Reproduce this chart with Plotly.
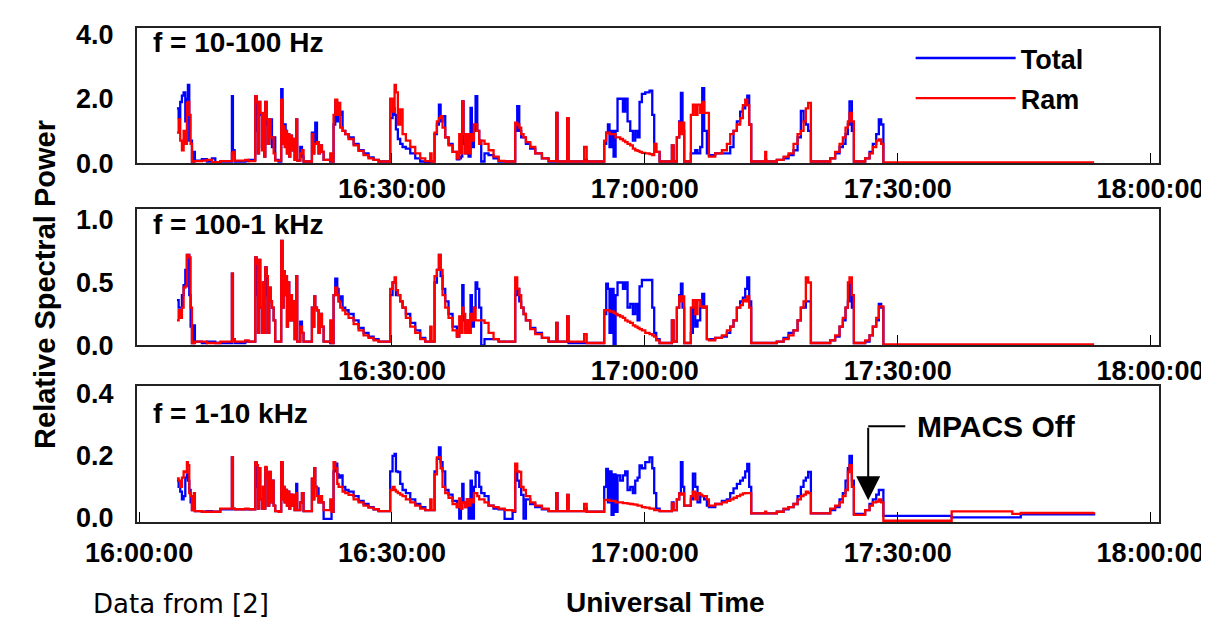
import plotly.graph_objects as go

# time in minutes after 16:00:00 UT
minutes = [4.49, 4.69, 4.88, 5.08, 5.28, 5.48, 5.67, 5.79, 5.95, 6.11, 6.27, 6.5, 6.62, 7.45, 8.05, 8.64, 9.04, 9.63,
           11.01, 11.13, 11.33, 12.59, 12.99, 13.78, 13.94, 14.1, 14.22, 14.37, 14.57, 14.69, 14.85, 14.97, 15.13,
           15.28, 15.44, 15.6, 15.76, 15.96, 16.15, 16.55, 16.86, 17.02, 17.14, 17.26, 17.38, 17.54, 17.66, 17.81,
           17.93, 18.13, 18.25, 18.45, 18.64, 18.76, 19.12, 19.32, 19.51, 20.5, 20.66, 20.78, 20.9, 21.1, 21.29,
           21.45, 21.69, 21.89, 22.68, 22.83, 23.07, 23.27, 23.51, 23.67, 23.86, 24.14, 24.46, 24.85, 25.45, 26.04,
           26.63, 27.22, 27.82, 28.41, 29.79, 30.07, 30.31, 30.47, 30.7, 30.98, 31.26, 31.65, 32.17, 32.76, 33.35,
           33.95, 34.54, 34.7, 35.05, 35.33, 35.57, 35.77, 36.0, 36.32, 36.71, 37.19, 37.7, 37.98, 38.18, 38.34,
           38.49, 38.69, 38.89, 39.09, 39.32, 39.48, 39.72, 39.92, 40.12, 40.35, 40.59, 40.98, 41.46, 42.05, 42.65,
           43.36, 44.31, 44.62, 44.86, 45.1, 45.33, 45.61, 45.89, 46.4, 47.0, 47.79, 48.58, 49.49, 49.64, 50.79,
           50.95, 52.8, 53.1, 55.18, 55.42, 55.62, 55.81, 56.05, 56.29, 56.53, 56.76, 57.08, 57.4, 57.67, 57.95,
           58.27, 58.58, 58.86, 59.14, 59.37, 59.65, 60.05, 60.56, 60.88, 61.11, 61.35, 61.75, 63.21, 63.41, 63.8,
           64.08, 64.28, 64.47, 64.67, 65.46, 65.7, 65.98, 66.25, 66.57, 66.81, 67.04, 67.36, 67.6, 68.35, 69.14,
           69.73, 70.13, 70.52, 70.92, 71.31, 71.63, 71.91, 72.15, 72.38, 72.62, 74.28, 74.4, 75.66, 76.46, 77.05,
           77.64, 78.12, 78.51, 78.83, 79.1, 79.38, 79.7, 81.99, 82.58, 83.1, 83.49, 83.81, 84.09, 84.28, 84.56,
           84.8, 86.14, 86.66, 87.05, 87.45, 87.76, 88.04, 88.3, 96.4, 103.6, 104.6, 113.3]

# f = 10-100 Hz
total_low = [1.7, 1.4, 1.9, 2.1, 2.2, 1.3, 2.0, 2.43, 0.7, 0.7, 0.05, 0.35, 0.08, 0.12, 0.05, 0.15, 0.03, 0.05,
             2.08, 0.4, 0.05, 0.06, 0.1, 2.08, 1.0, 0.3, 1.9, 1.5, 0.5, 1.5, 0.2, 1.9, 1.2,
             0.6, 1.36, 1.36, 0.5, 0.8, 0.1, 0.05, 2.3, 0.6, 1.15, 1.2, 1.0, 0.3, 0.9, 0.2,
             0.85, 0.4, 0.75, 0.1, 1.36, 0.08, 0.5, 0.2, 0.05, 0.95, 0.3, 0.6, 1.26, 0.65, 0.3,
             0.55, 0.35, 0.1, 0.05, 0.05, 1.2, 1.9, 1.3, 1.5, 1.6, 1.0, 0.9, 0.8, 0.6, 0.4,
             0.3, 0.18, 0.1, 0.05, 1.4, 1.7, 1.5, 1.05, 0.75, 0.6, 0.5, 0.45, 0.3, 0.15, 0.05,
             0.03, 0.05, 0.05, 0.9, 1.2, 1.82, 1.3, 1.46, 0.8, 0.6, 0.35, 0.12, 0.15, 0.2, 1.92,
             0.6, 0.3, 0.8, 0.2, 1.72, 0.5, 1.0, 2.08, 1.0, 0.7, 0.05, 0.3, 0.25, 0.15, 0.05,
             0.05, 0.05, 1.0, 1.77, 1.0, 0.8, 0.8, 0.6, 0.45, 0.3, 0.15, 0.05, 1.56, 0.05, 1.4,
             0.05, 0.1, 0.05, 0.6, 0.95, 1.2, 0.5, 1.0, 0.2, 1.0, 2.0, 2.0, 1.6, 2.0, 1.3,
             1.0, 0.7, 1.0, 0.8, 1.9, 2.15, 2.2, 2.25, 1.5, 0.6, 0.35, 0.05, 0.55, 0.05, 0.8,
             1.3, 2.18, 1.0, 0.05, 0.3, 0.3, 0.4, 0.3, 0.5, 2.33, 1.0, 0.3, 0.25, 0.3, 0.3,
             0.3, 0.5, 1.0, 1.3, 1.6, 1.7, 1.8, 2.1, 1.2, 0.05, 0.1, 0.05, 0.1, 0.15, 0.25,
             0.4, 0.8, 1.62, 1.3, 1.2, 1.0, 0.05, 0.15, 0.3, 0.5, 0.6, 0.9, 1.2, 1.92, 1.0,
             0.05, 0.15, 0.35, 0.6, 0.9, 1.36, 1.2, 0.0, 0.0, 0.0, 0.0, 0.0]
ram_low = [0.95, 1.36, 0.7, 0.4, 1.0, 0.6, 1.87, 1.9, 1.5, 0.6, 0.05, 0.05, 0.06, 0.08, 0.1, 0.03, 0.03, 0.06,
           0.3, 0.35, 0.08, 0.1, 0.06, 2.08, 1.9, 0.3, 1.9, 1.56, 0.4, 1.56, 0.2, 1.9, 1.36,
           0.6, 1.36, 0.8, 0.8, 0.3, 0.08, 0.08, 1.97, 0.6, 1.15, 0.5, 1.0, 0.3, 0.9, 0.2,
           0.85, 0.4, 0.75, 0.1, 1.36, 0.08, 0.3, 0.4, 0.05, 0.9, 0.3, 0.6, 0.6, 0.65, 0.3,
           0.55, 0.35, 0.1, 0.3, 0.05, 1.5, 1.97, 1.5, 1.87, 1.1, 1.0, 0.9, 0.75, 0.55, 0.38,
           0.25, 0.15, 0.1, 0.05, 2.0, 1.6, 2.43, 2.2, 1.2, 1.67, 0.9, 0.7, 0.5, 0.3, 0.15,
           0.06, 0.3, 0.05, 0.95, 1.3, 1.4, 1.46, 1.1, 0.8, 0.55, 0.35, 0.15, 0.9, 0.3, 1.92,
           0.9, 0.3, 0.9, 0.3, 0.9, 0.7, 1.2, 1.2, 1.0, 0.6, 0.7, 0.6, 0.4, 0.2, 0.07,
           0.05, 0.05, 1.26, 1.2, 1.1, 0.9, 0.8, 0.65, 0.5, 0.3, 0.15, 0.06, 1.56, 0.05, 1.4,
           0.05, 0.5, 0.05, 0.7, 0.95, 0.95, 0.9, 0.9, 0.9, 0.8, 0.8, 0.75, 0.7, 0.65, 0.6,
           0.55, 0.45, 0.4, 0.38, 0.35, 0.32, 0.3, 0.28, 0.25, 0.6, 0.35, 0.05, 0.55, 0.05, 0.8,
           1.26, 0.9, 1.26, 0.05, 1.5, 1.82, 1.5, 1.82, 1.56, 1.9, 1.56, 1.56, 0.2, 0.3, 0.4,
           0.6, 0.9, 1.0, 1.2, 1.4, 1.8, 1.97, 1.8, 1.2, 0.05, 0.35, 0.05, 0.1, 0.2, 0.3,
           0.6, 0.9, 1.0, 1.3, 1.7, 1.87, 0.05, 0.15, 0.35, 0.6, 0.8, 1.1, 1.3, 1.56, 1.3,
           0.05, 0.15, 0.3, 0.5, 0.7, 0.74, 0.6, 0.02, 0.02, 0.02, 0.02, 0.02]

# f = 100-1 kHz
total_mid = [0.36, 0.3, 0.3, 0.4, 0.48, 0.6, 0.72, 0.72, 0.4, 0.15, 0.02, 0.16, 0.03, 0.02, 0.03, 0.03, 0.02, 0.02,
             0.57, 0.05, 0.02, 0.03, 0.03, 0.7, 0.4, 0.1, 0.68, 0.3, 0.1, 0.5, 0.1, 0.62, 0.4,
             0.1, 0.46, 0.35, 0.3, 0.2, 0.03, 0.03, 0.83, 0.3, 0.59, 0.4, 0.55, 0.15, 0.5, 0.2,
             0.4, 0.2, 0.35, 0.05, 0.55, 0.03, 0.19, 0.1, 0.03, 0.3, 0.15, 0.39, 0.3, 0.28, 0.1,
             0.25, 0.15, 0.03, 0.02, 0.02, 0.4, 0.53, 0.45, 0.35, 0.39, 0.3, 0.28, 0.25, 0.2, 0.14,
             0.1, 0.07, 0.05, 0.03, 0.4, 0.5, 0.5, 0.4, 0.4, 0.35, 0.3, 0.25, 0.18, 0.12, 0.06,
             0.03, 0.03, 0.03, 0.5, 0.6, 0.72, 0.55, 0.45, 0.35, 0.25, 0.15, 0.07, 0.1, 0.1, 0.48,
             0.2, 0.12, 0.2, 0.1, 0.4, 0.15, 0.3, 0.5, 0.45, 0.3, 0.0, 0.05, 0.05, 0.05, 0.03,
             0.03, 0.03, 0.4, 0.45, 0.35, 0.3, 0.25, 0.2, 0.14, 0.1, 0.06, 0.03, 0.18, 0.03, 0.23,
             0.02, 0.02, 0.02, 0.25, 0.49, 0.45, 0.1, 0.45, 0.0, 0.4, 0.5, 0.5, 0.45, 0.5, 0.3,
             0.33, 0.25, 0.33, 0.2, 0.47, 0.52, 0.52, 0.52, 0.3, 0.1, 0.05, 0.02, 0.2, 0.03, 0.3,
             0.4, 0.49, 0.3, 0.02, 0.1, 0.3, 0.15, 0.2, 0.3, 0.41, 0.3, 0.05, 0.05, 0.06, 0.07,
             0.1, 0.15, 0.2, 0.3, 0.35, 0.38, 0.45, 0.54, 0.35, 0.02, 0.02, 0.02, 0.03, 0.06, 0.1,
             0.12, 0.2, 0.3, 0.3, 0.35, 0.35, 0.02, 0.04, 0.07, 0.15, 0.2, 0.3, 0.35, 0.5, 0.3,
             0.02, 0.03, 0.08, 0.15, 0.2, 0.33, 0.3, 0.0, 0.0, 0.0, 0.0, 0.0]
ram_mid = [0.2, 0.28, 0.22, 0.3, 0.46, 0.47, 0.72, 0.72, 0.7, 0.3, 0.02, 0.02, 0.03, 0.03, 0.02, 0.02, 0.02, 0.03,
           0.57, 0.05, 0.03, 0.04, 0.03, 0.7, 0.65, 0.1, 0.68, 0.3, 0.1, 0.5, 0.1, 0.62, 0.55,
           0.1, 0.46, 0.35, 0.3, 0.2, 0.03, 0.03, 0.83, 0.3, 0.59, 0.4, 0.55, 0.15, 0.5, 0.2,
           0.4, 0.2, 0.35, 0.05, 0.55, 0.03, 0.15, 0.1, 0.03, 0.3, 0.15, 0.39, 0.3, 0.28, 0.1,
           0.25, 0.15, 0.03, 0.2, 0.02, 0.4, 0.46, 0.4, 0.35, 0.3, 0.28, 0.25, 0.22, 0.17, 0.12,
           0.08, 0.06, 0.04, 0.03, 0.45, 0.5, 0.54, 0.44, 0.4, 0.35, 0.3, 0.22, 0.15, 0.1, 0.05,
           0.03, 0.15, 0.03, 0.55, 0.6, 0.72, 0.6, 0.4, 0.3, 0.22, 0.12, 0.07, 0.23, 0.1, 0.3,
           0.25, 0.1, 0.2, 0.1, 0.25, 0.2, 0.3, 0.2, 0.2, 0.2, 0.2, 0.18, 0.1, 0.05, 0.03,
           0.03, 0.03, 0.54, 0.45, 0.4, 0.3, 0.25, 0.2, 0.13, 0.09, 0.06, 0.03, 0.18, 0.03, 0.23,
           0.03, 0.09, 0.02, 0.28, 0.28, 0.28, 0.27, 0.27, 0.26, 0.25, 0.24, 0.23, 0.22, 0.2, 0.19,
           0.18, 0.16, 0.15, 0.14, 0.13, 0.12, 0.1, 0.09, 0.08, 0.07, 0.04, 0.02, 0.2, 0.03, 0.3,
           0.39, 0.35, 0.39, 0.02, 0.3, 0.36, 0.25, 0.36, 0.31, 0.3, 0.31, 0.05, 0.04, 0.06, 0.08,
           0.12, 0.15, 0.2, 0.3, 0.32, 0.36, 0.35, 0.39, 0.3, 0.02, 0.02, 0.02, 0.03, 0.05, 0.08,
           0.12, 0.2, 0.3, 0.35, 0.54, 0.5, 0.02, 0.04, 0.08, 0.15, 0.22, 0.3, 0.5, 0.54, 0.4,
           0.02, 0.04, 0.08, 0.15, 0.22, 0.31, 0.31, 0.008, 0.008, 0.008, 0.008, 0.008]

# f = 1-10 kHz
total_high = [0.12, 0.1, 0.085, 0.06, 0.07, 0.13, 0.14, 0.12, 0.09, 0.05, 0.025, 0.03, 0.022, 0.02, 0.022, 0.02, 0.02, 0.028,
              0.195, 0.03, 0.028, 0.028, 0.028, 0.18, 0.1, 0.03, 0.16, 0.06, 0.03, 0.1, 0.03, 0.16, 0.13,
              0.04, 0.148, 0.05, 0.12, 0.04, 0.022, 0.022, 0.18, 0.06, 0.1, 0.05, 0.09, 0.04, 0.085, 0.03,
              0.075, 0.04, 0.074, 0.025, 0.11, 0.025, 0.05, 0.08, 0.022, 0.125, 0.06, 0.16, 0.1, 0.095, 0.05,
              0.07, 0.05, -0.003, -0.003, 0.02, 0.15, 0.175, 0.14, 0.13, 0.137, 0.1, 0.09, 0.085, 0.07, 0.055,
              0.045, 0.035, 0.028, 0.022, 0.15, 0.2, 0.206, 0.15, 0.148, 0.11, 0.09, 0.08, 0.06, 0.045, 0.035,
              0.025, 0.025, 0.025, 0.15, 0.19, 0.227, 0.18, 0.15, 0.09, 0.075, 0.055, 0.035, -0.002, 0.03, 0.11,
              0.05, 0.035, 0.06, -0.002, 0.12, -0.002, 0.1, 0.148, 0.145, 0.1, 0.08, 0.07, 0.04, 0.03, 0.028,
              -0.003, 0.02, 0.15, 0.12, 0.1, 0.074, -0.002, 0.06, 0.045, 0.035, 0.028, 0.022, 0.08, 0.022, 0.074,
              0.022, 0.03, 0.02, 0.1, 0.158, 0.05, 0.15, 0.01, 0.14, 0.02, 0.137, 0.12, 0.137, 0.15, 0.09,
              0.1, 0.08, 0.12, 0.13, 0.169, 0.16, 0.18, 0.195, 0.16, 0.08, 0.03, 0.022, 0.05, 0.025, 0.06,
              0.08, 0.18, 0.1, 0.04, 0.06, 0.143, 0.1, 0.05, 0.07, 0.07, 0.06, 0.04, 0.035, 0.045, 0.055,
              0.06, 0.08, 0.095, 0.11, 0.12, 0.13, 0.15, 0.174, 0.1, 0.015, 0.015, 0.015, 0.02, 0.028, 0.035,
              0.045, 0.07, 0.1, 0.12, 0.13, 0.148, 0.015, 0.025, 0.035, 0.06, 0.08, 0.12, 0.16, 0.2, 0.12,
              0.013, 0.025, 0.045, 0.06, 0.075, 0.09, 0.09, 0.007, 0.002, 0.002, 0.012, 0.013]
ram_high = [0.127, 0.12, 0.1, 0.13, 0.15, 0.148, 0.18, 0.17, 0.08, 0.07, 0.025, 0.08, 0.022, 0.02, 0.02, 0.02, 0.02, 0.03,
            0.195, 0.03, 0.028, 0.03, 0.028, 0.18, 0.17, 0.03, 0.16, 0.06, 0.03, 0.1, 0.03, 0.164, 0.13,
            0.04, 0.148, 0.05, 0.12, 0.04, 0.022, 0.02, 0.18, 0.06, 0.1, 0.05, 0.09, 0.04, 0.085, 0.03,
            0.075, 0.04, 0.074, 0.025, 0.08, 0.025, 0.05, 0.08, 0.022, 0.127, 0.06, 0.16, 0.1, 0.07, 0.05,
            0.07, 0.05, 0.025, 0.06, 0.02, 0.18, 0.16, 0.11, 0.1, 0.1, 0.085, 0.08, 0.074, 0.06, 0.05,
            0.04, 0.033, 0.028, 0.022, 0.09, 0.1, 0.09, 0.085, 0.08, 0.075, 0.07, 0.06, 0.05, 0.04, 0.03,
            0.025, 0.06, 0.025, 0.14, 0.195, 0.195, 0.16, 0.1, 0.08, 0.065, 0.045, 0.035, 0.063, 0.03, 0.05,
            0.05, 0.035, 0.06, 0.04, 0.06, 0.05, 0.08, 0.08, 0.07, 0.06, 0.06, 0.05, 0.04, 0.035, 0.03,
            0.025, 0.022, 0.175, 0.15, 0.148, 0.1, 0.09, 0.07, 0.05, 0.04, 0.03, 0.022, 0.08, 0.022, 0.074,
            0.022, 0.045, 0.02, 0.058, 0.058, 0.058, 0.055, 0.055, 0.055, 0.05, 0.05, 0.05, 0.048, 0.048, 0.046,
            0.045, 0.044, 0.043, 0.04, 0.04, 0.035, 0.033, 0.03, 0.03, 0.025, 0.025, 0.022, 0.047, 0.025, 0.06,
            0.079, 0.075, 0.079, 0.04, 0.07, 0.085, 0.06, 0.08, 0.075, 0.07, 0.07, 0.06, 0.04, 0.045, 0.05,
            0.055, 0.06, 0.065, 0.07, 0.075, 0.079, 0.08, 0.08, 0.08, 0.015, 0.02, 0.015, 0.02, 0.03, 0.035,
            0.045, 0.06, 0.07, 0.075, 0.085, 0.08, 0.015, 0.03, 0.04, 0.05, 0.07, 0.09, 0.148, 0.17, 0.1,
            0.01, 0.025, 0.04, 0.05, 0.053, 0.06, 0.05, -0.009, 0.021, 0.013, 0.016, 0.018]

panel_labels = ["f = 10-100 Hz", "f = 100-1 kHz", "f = 1-10 kHz"]
y_ranges = [[0, 4.2], [0, 1.08], [-0.013, 0.425]]
y_ticks = [[0, 2, 4], [0, 0.5, 1.0], [0, 0.2, 0.4]]
x_ticks_top = [30, 60, 90, 120]
x_ticks_bottom = [0, 30, 60, 90, 120]
x_tick_text_top = ["16:30:00", "17:00:00", "17:30:00", "18:00:00"]
x_tick_text_bottom = ["16:00:00", "16:30:00", "17:00:00", "17:30:00", "18:00:00"]

BLUE = "#0000ff"
RED = "#ff0000"
FONT = "Liberation Sans, Arial, sans-serif"

series = [(total_low, ram_low), (total_mid, ram_mid), (total_high, ram_high)]
domains = [[0.7265, 1.0], [0.3573, 0.6327], [0.0, 0.2754]]
label_y = [0.89, 0.891, 0.797]

fig = go.Figure()
for i, (tot, ram) in enumerate(series):
    xa = "x" if i == 0 else f"x{i+1}"
    ya = "y" if i == 0 else f"y{i+1}"
    fig.add_trace(go.Scatter(x=minutes, y=tot, mode="lines", line=dict(color=BLUE, width=2.3, shape="hv"),
                             name="Total", legendgroup="total", showlegend=(i == 0), xaxis=xa, yaxis=ya))
    fig.add_trace(go.Scatter(x=minutes, y=ram, mode="lines", line=dict(color=RED, width=2.3, shape="hv"),
                             name="Ram", legendgroup="ram", showlegend=(i == 0), xaxis=xa, yaxis=ya))

def bold(size):
    return dict(family=FONT, size=size, color="black", weight="bold")

layout = dict(
    width=1209, height=620,
    margin=dict(l=129, r=58, t=13, b=106),
    paper_bgcolor="white", plot_bgcolor="white",
    showlegend=True,
    legend=dict(x=0.757, y=0.988, xanchor="left", yanchor="top", bgcolor="rgba(0,0,0,0)",
                font=bold(27), itemwidth=100, traceorder="grouped", tracegroupgap=2),
)
for i in range(3):
    key_x = "xaxis" if i == 0 else f"xaxis{i+1}"
    key_y = "yaxis" if i == 0 else f"yaxis{i+1}"
    ya = "y" if i == 0 else f"y{i+1}"
    xa = "x" if i == 0 else f"x{i+1}"
    bottom = (i == 2)
    layout[key_x] = dict(domain=[0, 1], anchor=ya, range=[-0.25, 121],
                         tickvals=x_ticks_bottom if bottom else x_ticks_top,
                         ticktext=x_tick_text_bottom if bottom else x_tick_text_top,
                         ticks="inside", ticklen=10, tickwidth=1, tickcolor="black",
                         ticklabelstandoff=6 if bottom else 0,
                         showline=True, mirror=True, linecolor="#222222", linewidth=2,
                         showgrid=False, zeroline=False, tickfont=bold(27))
    layout[key_y] = dict(domain=domains[i], anchor=xa, range=y_ranges[i], tickvals=y_ticks[i],
                         tickformat=".1f", ticks="", showline=True, mirror=True, linecolor="#222222",
                         linewidth=2, showgrid=False, zeroline=False, tickfont=bold(27),
                         ticklabelstandoff=16)
fig.update_layout(**layout)

annotations = []
for i, lab in enumerate(panel_labels):
    ya = "y" if i == 0 else f"y{i+1}"
    xa = "x" if i == 0 else f"x{i+1}"
    annotations.append(dict(text=lab, xref=f"{xa} domain", yref=f"{ya} domain", x=0.014, y=label_y[i],
                            xanchor="left", yanchor="middle", showarrow=False, font=bold(28)))
annotations.append(dict(text="Relative Spectral Power", xref="paper", yref="paper", x=-0.09, y=0.48,
                        textangle=-90, showarrow=False, xanchor="center", yanchor="middle", font=bold(29)))
annotations.append(dict(text="Universal Time", xref="paper", yref="paper", x=0.5176, y=-0.163,
                        showarrow=False, xanchor="center", yanchor="middle", font=bold(28)))
annotations.append(dict(text="Data from [2]", xref="paper", yref="paper", x=-0.045, y=-0.166,
                        showarrow=False, xanchor="left", yanchor="middle",
                        font=dict(family="DejaVu Sans, sans-serif", size=26, color="black")))
annotations.append(dict(text="MPACS Off", xref="x3", yref="y3", x=92.1, y=0.295,
                        showarrow=False, xanchor="left", yanchor="middle", font=bold(30)))
annotations.append(dict(text="", xref="x3", yref="y3", x=86.5, y=0.057, axref="x3", ayref="y3",
                        ax=86.5, ay=0.295, showarrow=True, arrowhead=2, arrowsize=2.4, arrowwidth=2,
                        arrowcolor="black"))
fig.update_layout(annotations=annotations)
fig.add_shape(type="line", xref="x3", yref="y3", x0=86.5, x1=90.9, y0=0.295, y1=0.295,
              line=dict(color="black", width=2))

fig.write_html("out.html")
